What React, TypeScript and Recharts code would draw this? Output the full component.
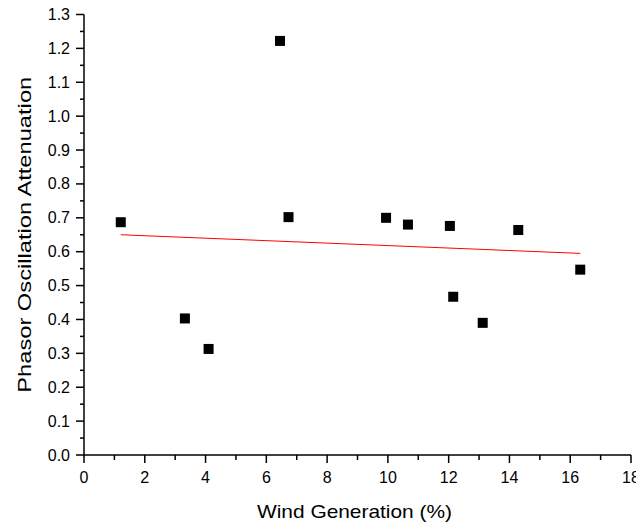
import React from 'react';
import { ScatterChart, Scatter, XAxis, YAxis, Label } from 'recharts';

const windGeneration = [1.21, 3.32, 4.10, 6.45, 6.73, 9.94, 10.66, 12.04, 12.15, 13.12, 14.29, 16.33];
const attenuation = [0.687, 0.403, 0.313, 1.222, 0.702, 0.700, 0.680, 0.676, 0.467, 0.390, 0.664, 0.547];

const trendX = [1.21, 16.33];
const trendY = [0.650, 0.595];

const xTicks = [0, 1, 2, 3, 4, 5, 6, 7, 8, 9, 10, 11, 12, 13, 14, 15, 16, 17, 18];
const xMajorTicks = [0, 2, 4, 6, 8, 10, 12, 14, 16, 18];
const yTicks = [0, 0.05, 0.1, 0.15, 0.2, 0.25, 0.3, 0.35, 0.4, 0.45, 0.5, 0.55, 0.6, 0.65, 0.7, 0.75, 0.8, 0.85, 0.9, 0.95, 1.0, 1.05, 1.1, 1.15, 1.2, 1.25, 1.3];
const yMajorTicks = [0, 0.1, 0.2, 0.3, 0.4, 0.5, 0.6, 0.7, 0.8, 0.9, 1.0, 1.1, 1.2, 1.3];

const xTitle = 'Wind Generation (%)';
const yTitle = 'Phasor Oscillation Attenuation';

const points = windGeneration.map((x, i) => ({ x, y: attenuation[i] }));
const trend = trendX.map((x, i) => ({ x, y: trendY[i] }));

const FONT = '"Liberation Sans", Arial, Helvetica, sans-serif';

const isMajor = (list: number[], v: number) => list.some((m) => Math.abs(m - v) < 1e-6);

const XTick = (props: any) => {
  const { x, y, payload } = props;
  const major = isMajor(xMajorTicks, payload.value);
  return (
    <g>
      <line x1={x} x2={x} y1={y} y2={y + (major ? 8 : 5)} stroke="#000" strokeWidth={1.5} />
      {major && (
        <text x={x} y={y + 28} textAnchor="middle" fontSize={16} fontFamily={FONT} fill="#000">
          {String(payload.value)}
        </text>
      )}
    </g>
  );
};

const YTick = (props: any) => {
  const { x, y, payload } = props;
  const major = isMajor(yMajorTicks, payload.value);
  return (
    <g>
      <line x1={x} x2={x - (major ? 8 : 4)} y1={y} y2={y} stroke="#000" strokeWidth={1.5} />
      {major && (
        <text x={x - 14} y={y + 5.5} textAnchor="end" fontSize={16} fontFamily={FONT} fill="#000">
          {Number(payload.value).toFixed(1)}
        </text>
      )}
    </g>
  );
};

const XTitle = (props: any) => {
  const vb = props.viewBox;
  const cx = vb.x + vb.width / 2 - 3;
  return (
    <text x={cx} y={vb.y + 62.5} textAnchor="middle" fontSize={19} fontFamily={FONT} fill="#000"
      textLength={195} lengthAdjust="spacingAndGlyphs">
      {xTitle}
    </text>
  );
};

const YTitle = (props: any) => {
  const vb = props.viewBox;
  const cx = 31;
  const cy = vb.y + vb.height / 2;
  return (
    <text x={cx} y={cy} transform={`rotate(-90, ${cx}, ${cy})`} textAnchor="middle" fontSize={19}
      fontFamily={FONT} fill="#000" textLength={316} lengthAdjust="spacingAndGlyphs">
      {yTitle}
    </text>
  );
};

const Square = (props: any) => {
  const { cx, cy } = props;
  if (cx == null || cy == null) return <g />;
  return <rect x={cx - 5} y={cy - 5} width={10} height={10} fill="#000" />;
};

export default function App() {
  return (
    <div style={{ width: 644, height: 531, margin: -8, background: '#fff' }}>
      <ScatterChart width={644} height={531} margin={{ top: 14.5, right: 13, left: 0, bottom: 0 }} style={{ overflow: 'visible' }}>
        <XAxis
          type="number"
          dataKey="x"
          domain={[0, 18]}
          ticks={xTicks}
          interval={0}
          allowDataOverflow
          height={76}
          tickSize={0}
          tickMargin={0}
          tickLine={false}
          axisLine={{ stroke: '#000', strokeWidth: 1.5 }}
          tick={<XTick />}
        >
          <Label content={<XTitle />} />
        </XAxis>
        <YAxis
          type="number"
          dataKey="y"
          domain={[0, 1.3]}
          ticks={yTicks}
          interval={0}
          allowDataOverflow
          width={84}
          tickSize={0}
          tickMargin={0}
          tickLine={false}
          axisLine={{ stroke: '#000', strokeWidth: 1.5 }}
          tick={<YTick />}
        >
          <Label content={<YTitle />} />
        </YAxis>
        <Scatter data={trend} line={{ stroke: '#ff0000', strokeWidth: 1 }} shape={() => <g />} isAnimationActive={false} />
        <Scatter data={points} shape={<Square />} isAnimationActive={false} />
      </ScatterChart>
    </div>
  );
}
